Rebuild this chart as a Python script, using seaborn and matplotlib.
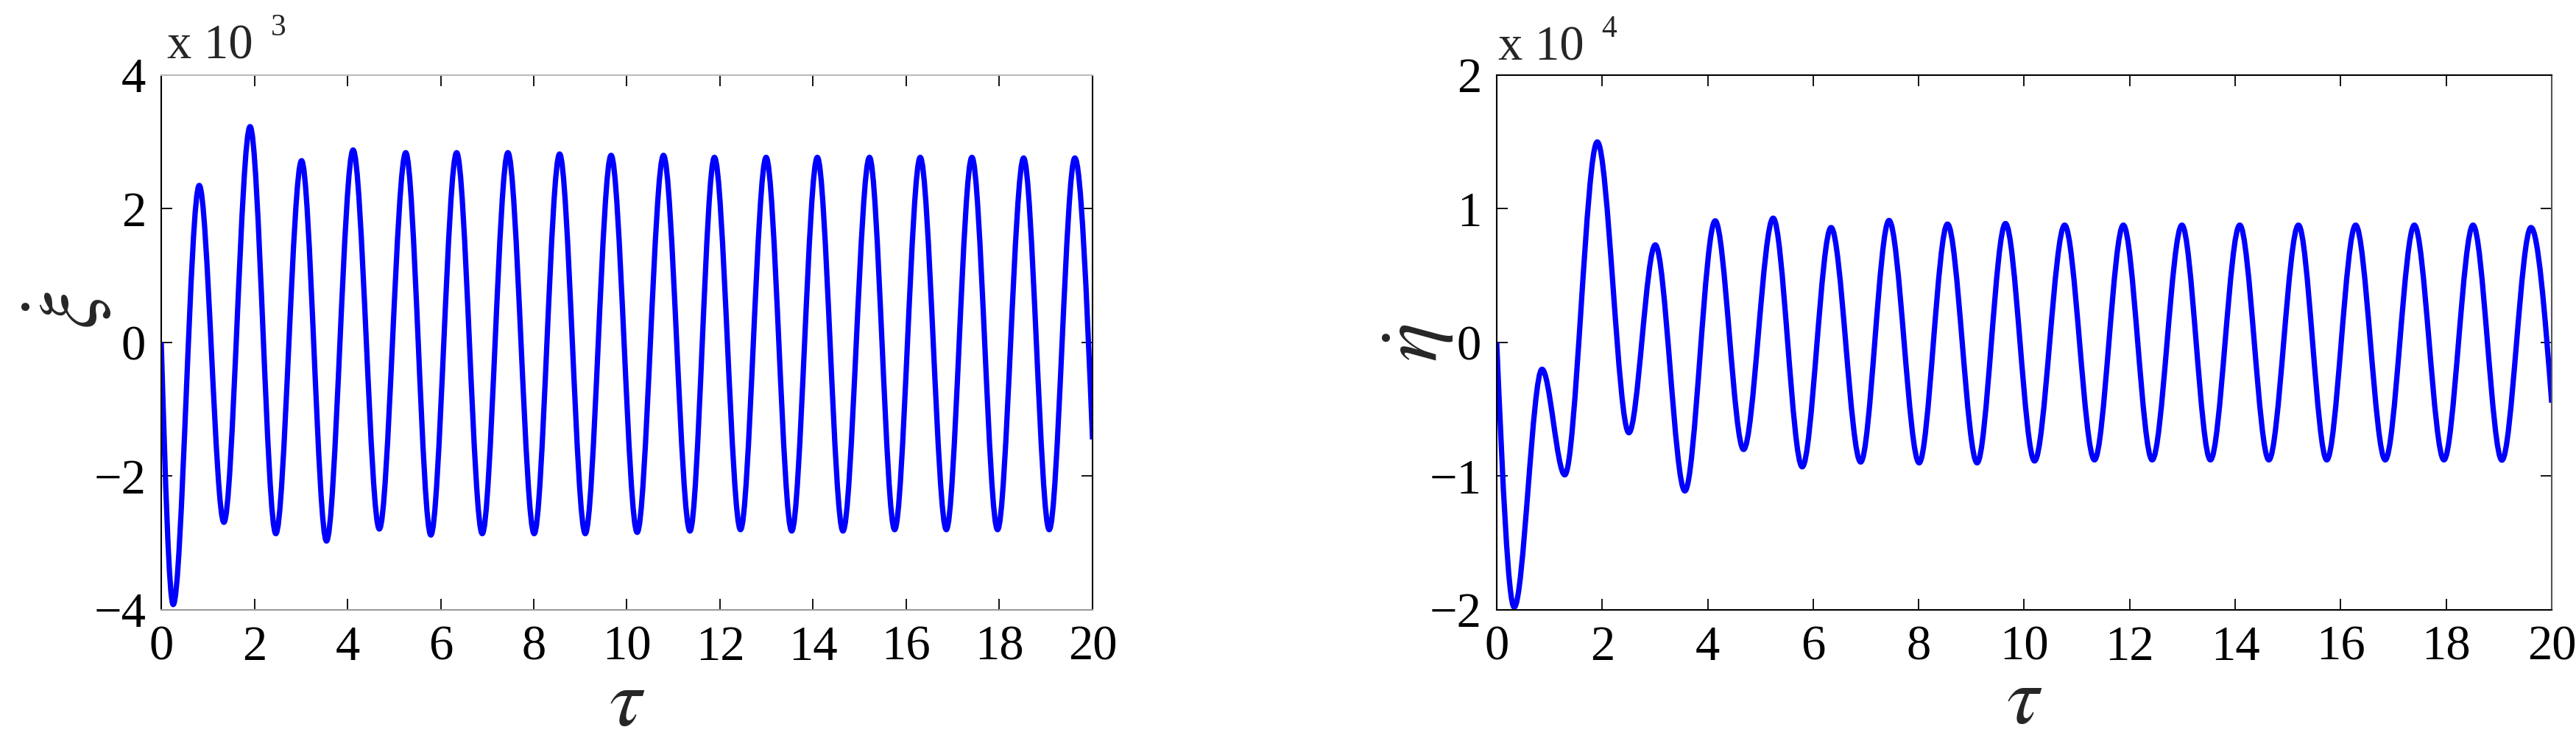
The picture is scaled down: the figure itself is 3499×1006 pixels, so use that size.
import matplotlib
matplotlib.use("Agg")
import matplotlib.pyplot as plt
from matplotlib.path import Path
from matplotlib.patches import PathPatch
import seaborn as sns

# turning points (tau, value); first and last are the ends of the run
tau_xi = [0, 0.257, 0.816, 1.346, 1.908, 2.461, 3.014, 3.549, 4.121, 4.684, 5.251,
          5.79, 6.344, 6.894, 7.445, 8.009, 8.555, 9.106, 9.661, 10.221, 10.786, 11.355,
          11.88, 12.44, 12.99, 13.54, 14.09, 14.64, 15.21, 15.75, 16.30, 16.86,
          17.41, 17.96, 18.52, 19.07, 19.62, 20.0]
xi_dot = [0, -3.92, 2.35, -2.69, 3.23, -2.86, 2.72, -2.97, 2.88, -2.79, 2.84,
          -2.88, 2.84, -2.86, 2.84, -2.86, 2.82, -2.86, 2.80, -2.84, 2.80, -2.82,
          2.77, -2.80, 2.77, -2.82, 2.77, -2.82, 2.77, -2.80, 2.77, -2.80,
          2.77, -2.80, 2.76, -2.80, 2.76, -1.45]

tau_eta = [0, 0.332, 0.859, 1.29, 1.907, 2.506, 3.006, 3.567, 4.142, 4.68, 5.241,
           5.792, 6.339, 6.90, 7.437, 8.008, 8.546, 9.107, 9.645, 10.196, 10.767,
           11.332, 11.879, 12.426, 12.99, 13.53, 14.086, 14.638, 15.199, 15.736,
           16.283, 16.844, 17.396, 17.957, 18.509, 19.056, 19.607, 20.0]
eta_dot = [0, -1.98, -0.20, -0.99, 1.50, -0.675, 0.73, -1.11, 0.91, -0.80, 0.93,
           -0.93, 0.86, -0.894, 0.913, -0.90, 0.886, -0.90, 0.89, -0.886, 0.878,
           -0.878, 0.878, -0.878, 0.878, -0.878, 0.878, -0.878, 0.878, -0.878,
           0.878, -0.878, 0.878, -0.878, 0.878, -0.88, 0.86, -0.45]

x_ticks = list(range(0, 21, 2))
xi_ticks = [-4, -2, 0, 2, 4]
eta_ticks = [-2, -1, 0, 1, 2]

sns.set_theme(style="ticks")
plt.rcParams['font.family'] = ['Liberation Serif', 'DejaVu Serif']
plt.rcParams['mathtext.fontset'] = 'stix'


def smooth_path(t, v):
    """cubic segments between turning points, flat tangent at each peak/trough"""
    verts = [(t[0], v[0])]
    codes = [Path.MOVETO]
    last = len(t) - 1
    for i in range(last):
        dt = t[i + 1] - t[i]
        dv = v[i + 1] - v[i]
        c1 = (t[i] + dt / 3, v[i] + (0.52 * dv if i == 0 else 0))
        c2 = (t[i + 1] - dt / 3, v[i + 1] - (0.52 * dv if i + 1 == last else 0))
        verts += [c1, c2, (t[i + 1], v[i + 1])]
        codes += [Path.CURVE4] * 3
    return Path(verts, codes)


def style_axes(ax, yticks, ylim):
    ax.set_xlim(0, 20)
    ax.set_ylim(*ylim)
    ax.set_xticks(x_ticks)
    ax.set_yticks(yticks)
    ax.tick_params(direction='in', length=10.8, width=1.3, top=True, right=True,
                   labelsize=48, pad=15, colors='black')
    for s in ax.spines.values():
        s.set_linewidth(1.5)
        s.set_color('black')
    ax.grid(False)


fig = plt.figure(figsize=(34.99, 10.06), dpi=100)
fig.patch.set_facecolor('white')

ax1 = fig.add_axes([0.06259, 0.17694, 0.36153, 0.72167])
ax2 = fig.add_axes([0.58102, 0.17694, 0.40955, 0.72167])

# left: xi dot
ax1.add_patch(PathPatch(smooth_path(tau_xi, xi_dot), facecolor='none',
                        edgecolor='#0000ff', lw=5.2, joinstyle='round'))
style_axes(ax1, xi_ticks, (-4, 4))
ax1.spines['top'].set_color('#bbbbbb')
ax1.spines['bottom'].set_color('#999999')
ax1.set_xlabel(r'$\tau$', fontsize=80, va='center')
ax1.xaxis.set_label_coords(0.5, -0.180)
ax1.set_ylabel(r'$\dot{\xi}$', fontsize=80, va='center')
ax1.yaxis.set_label_coords(-0.10, 0.56)

# right: eta dot
ax2.add_patch(PathPatch(smooth_path(tau_eta, eta_dot), facecolor='none',
                        edgecolor='#0000ff', lw=5.2, joinstyle='round'))
style_axes(ax2, eta_ticks, (-2, 2))
ax2.spines['right'].set_color('#555555')
ax2.set_xlabel(r'$\tau$', fontsize=80, va='center')
ax2.xaxis.set_label_coords(0.5, -0.175)
ax2.set_ylabel(r'$\dot{\eta}$', fontsize=80, va='center')
ax2.yaxis.set_label_coords(-0.074, 0.50)

# MATLAB style exponent labels
fig.text(0.0649, 0.9205, 'x 10', fontsize=48, ha='left', va='baseline')
fig.text(0.1052, 0.9523, '3', fontsize=30, ha='left', va='baseline')
fig.text(0.5816, 0.9185, 'x 10', fontsize=48, ha='left', va='baseline')
fig.text(0.6216, 0.9500, '4', fontsize=30, ha='left', va='baseline')

fig.savefig('out.png', dpi=100, facecolor='white')
